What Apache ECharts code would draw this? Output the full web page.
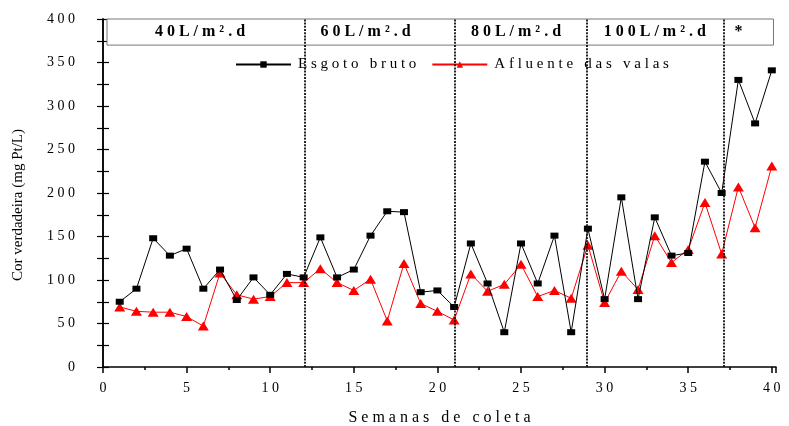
<!DOCTYPE html>
<html>
<head>
<meta charset="utf-8">
<script src="https://cdn.jsdelivr.net/npm/echarts@6/dist/echarts.min.js"></script>
<style>html,body{margin:0;padding:0;background:#fff}#c{width:789px;height:426px}</style>
</head>
<body>
<div id="c"></div>
<script>
var weeks = [1,2,3,4,5,6,7,8,9,10,11,12,13,14,15,16,17,18,19,20,21,22,23,24,25,26,27,28,29,30,31,32,33,34,35,36,37,38,39,40];
var esgotoBruto = [75,90,148,128,136,90,112,77,103,83,107,103,149,103,112,151,179,178,86,88,69,142,96,40,142,96,151,40,159,78,195,78,172,128,131,236,200,330,280,341];
var afluenteValas = [69,64,63,63,58,47,108,83,78,81,97,97,113,97,88,101,53,119,73,64,54,107,87,95,118,81,88,79,140,74,110,89,151,120,135,189,130,207,160,231];
var seriesNames = ['Esgoto bruto', 'Afluente das valas'];
var phaseBounds = [12.05, 21.05, 28.95, 37.1];
var phaseLabels = ['40L/m².d', '60L/m².d', '80L/m².d', '100L/m².d', '*'];
var phaseLabelX = [5.8, 15.7, 24.7, 33.0, 38.0];
var phaseLabelY = 385;
var headerBox = [[0.24, 370], [40.1, 400]];
var xName = 'Semanas de coleta';
var yName = 'Cor verdadeira (mg Pt/L)';

function spaced(s) {
  return s.split(' ').map(function (w) { return w.split('').join(' '); }).join('   ');
}
function pairs(vals) { return weeks.map(function (w, i) { return [w, vals[i]]; }); }

var serif = '"Liberation Serif", "DejaVu Serif", serif';
var chart = echarts.init(document.getElementById('c'), null, {renderer: 'canvas'});
var xCommon = {type: 'value', min: 0, max: 40.25, position: 'bottom', splitLine: {show: false}};
var option = {
  animation: false,
  backgroundColor: '#fff',
  grid: {left: 103, right: 13, top: 19, bottom: 59, containLabel: false, outerBoundsMode: 'none'},
  legend: {
    left: 230, top: 54, padding: [3, 5], itemGap: 15, itemWidth: 55, itemHeight: 8,
    backgroundColor: '#fff',
    formatter: function (n) { return spaced(n); },
    textStyle: {fontFamily: serif, fontSize: 15, color: '#000', padding: [0, 0, 0, 2]},
    data: seriesNames
  },
  xAxis: [
    Object.assign({}, xCommon, {
      interval: 5,
      name: spaced(xName), nameLocation: 'middle', nameGap: 43,
      nameTextStyle: {fontFamily: serif, fontSize: 16, color: '#000'},
      axisLine: {show: true, lineStyle: {color: '#000', width: 1.5}},
      axisTick: {show: true, inside: false, length: 6, lineStyle: {color: '#000', width: 1.5}},
      axisLabel: {
        margin: 14, fontFamily: serif, fontSize: 14, color: '#000',
        formatter: function (v) { return (v % 5 === 0) ? String(v).split('').join(' ') : ''; }
      }
    }),
    Object.assign({}, xCommon, {
      interval: 2.5,
      axisLine: {show: false},
      axisTick: {show: true, inside: false, length: 3, lineStyle: {color: '#000', width: 1.5}},
      axisLabel: {show: false}
    })
  ],
  yAxis: [
    {
      type: 'value', min: 0, max: 400, interval: 50, position: 'left',
      name: yName, nameLocation: 'middle', nameGap: 77,
      nameTextStyle: {fontFamily: serif, fontSize: 15, color: '#000', padding: [0, 24, 0, 0]},
      splitLine: {show: false},
      axisLine: {show: true, lineStyle: {color: '#000', width: 1.5}},
      axisTick: {show: true, inside: false, length: 6, lineStyle: {color: '#000', width: 1.2}},
      minorTick: {show: true, splitNumber: 2, length: 6, lineStyle: {color: '#000', width: 1.2}},
      axisLabel: {
        margin: 28, fontFamily: serif, fontSize: 14, color: '#000',
        formatter: function (v) { return String(v).split('').join(' '); }
      }
    },
    {
      type: 'value', min: 0, max: 400, interval: 50, position: 'right',
      splitLine: {show: false},
      axisLine: {show: true, lineStyle: {color: '#000', width: 1.5}},
      axisTick: {show: true, inside: false, length: 6, lineStyle: {color: '#000', width: 1.2}},
      minorTick: {show: true, splitNumber: 2, length: 6, lineStyle: {color: '#000', width: 1.2}},
      axisLabel: {show: false}
    }
  ],
  series: [
    {
      type: 'line', name: '_box', xAxisIndex: 0, yAxisIndex: 0, data: [], z: 1, silent: true,
      markArea: {
        silent: true,
        itemStyle: {color: '#fff', borderColor: '#777', borderWidth: 1},
        data: [[{coord: headerBox[0]}, {coord: headerBox[1]}]]
      }
    },
    {
      type: 'line', name: '_phases', xAxisIndex: 0, yAxisIndex: 0, data: [], z: 2, silent: true,
      markLine: {
        silent: true, symbol: 'none', label: {show: false},
        lineStyle: {color: '#111', type: [2, 1.2], width: 1.8},
        data: phaseBounds.map(function (b) { return {xAxis: b}; })
      }
    },
    {
      type: 'line', name: seriesNames[0], xAxisIndex: 0, yAxisIndex: 0, z: 4,
      data: pairs(esgotoBruto),
      symbol: 'rect', symbolSize: [8, 6],
      lineStyle: {color: '#000', width: 1},
      itemStyle: {color: '#000'}
    },
    {
      type: 'line', name: seriesNames[1], xAxisIndex: 0, yAxisIndex: 0, z: 3,
      data: pairs(afluenteValas),
      symbol: 'triangle', symbolSize: [11, 9],
      lineStyle: {color: '#ff0000', width: 1},
      itemStyle: {color: '#ff0000'}
    }
  ]
};
chart.setOption(option);

var texts = phaseLabels.map(function (t, i) {
  var p = chart.convertToPixel({xAxisIndex: 0, yAxisIndex: 0}, [phaseLabelX[i], phaseLabelY]);
  return {
    type: 'text', x: p[0], y: p[1], z: 10,
    style: {
      text: spaced(t), fill: '#000', align: 'center', verticalAlign: 'middle',
      font: 'bold 16px ' + serif
    }
  };
});
chart.setOption({graphic: texts});
</script>
</body>
</html>
